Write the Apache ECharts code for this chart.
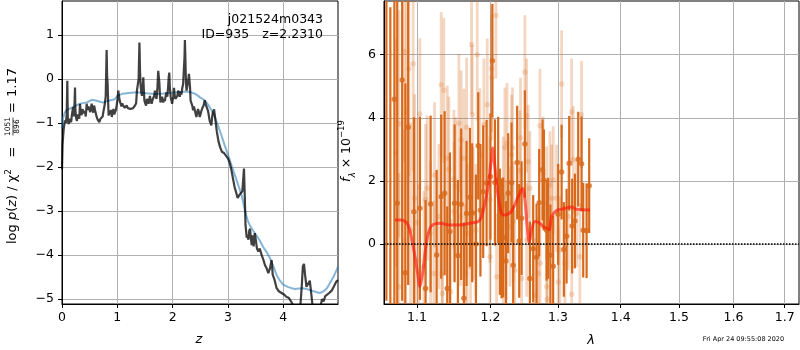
<!DOCTYPE html>
<html><head><meta charset="utf-8">
<script src="https://cdn.jsdelivr.net/npm/echarts@6/dist/echarts.min.js"></script>
<style>html,body{margin:0;padding:0;background:#fff}#c{width:800px;height:350px}</style>
</head><body><div id="c"></div>
<script>
// ---- left panel: log p(z)
const zGrid = [0.000,0.010,0.020,0.030,0.040,0.054,0.070,0.085,0.096,0.105,0.120,0.135,0.145,0.165,0.180,0.200,0.215,0.228,0.235,0.242,0.255,0.270,0.285,0.300,0.312,0.325,0.340,0.355,0.370,0.386,0.400,0.415,0.430,0.446,0.460,0.475,0.494,0.510,0.536,0.550,0.565,0.580,0.600,0.627,0.645,0.660,0.675,0.695,0.717,0.735,0.747,0.770,0.790,0.807,0.815,0.825,0.835,0.843,0.860,0.875,0.888,0.900,0.915,0.930,0.945,0.958,0.975,0.988,1.005,1.018,1.030,1.045,1.060,1.075,1.090,1.105,1.120,1.135,1.150,1.170,1.190,1.210,1.225,1.240,1.255,1.270,1.285,1.300,1.320,1.340,1.355,1.370,1.385,1.400,1.410,1.420,1.433,1.446,1.460,1.470,1.480,1.490,1.505,1.520,1.535,1.550,1.566,1.580,1.590,1.605,1.620,1.635,1.650,1.665,1.680,1.695,1.710,1.725,1.740,1.750,1.760,1.770,1.780,1.795,1.810,1.830,1.845,1.860,1.875,1.890,1.905,1.920,1.930,1.940,1.950,1.965,1.990,2.000,2.015,2.025,2.035,2.050,2.070,2.085,2.100,2.115,2.130,2.145,2.160,2.175,2.190,2.205,2.215,2.222,2.232,2.242,2.252,2.265,2.280,2.295,2.303,2.315,2.325,2.340,2.355,2.370,2.385,2.400,2.415,2.430,2.446,2.460,2.475,2.490,2.505,2.520,2.540,2.560,2.580,2.600,2.620,2.640,2.670,2.700,2.715,2.730,2.750,2.770,2.800,2.830,2.860,2.890,2.930,2.960,3.000,3.030,3.060,3.090,3.120,3.150,3.175,3.195,3.215,3.240,3.260,3.275,3.290,3.303,3.318,3.340,3.355,3.370,3.385,3.400,3.415,3.430,3.445,3.465,3.485,3.500,3.525,3.550,3.575,3.610,3.640,3.670,3.700,3.730,3.760,3.790,3.810,3.840,3.880,3.920,3.970,4.020,4.060,4.100,4.150,4.200,4.260,4.310,4.335,4.355,4.375,4.395,4.420,4.450,4.480,4.500,4.530,4.600,4.670,4.700,4.730,4.760,4.790,4.830,4.880,4.920,4.960,4.990];
const logpz = [-2.05,-1.50,-1.30,-1.15,-1.05,-0.94,-1.00,-0.80,-0.04,-0.90,-1.02,-0.90,-0.86,-0.98,-0.80,-0.64,-0.85,-0.50,-0.19,-0.70,-0.88,-0.95,-0.80,-0.79,-0.90,-0.56,-0.75,-0.82,-0.68,-0.64,-0.78,-0.72,-0.85,-0.56,-0.70,-0.62,-0.68,-0.75,-0.56,-0.70,-0.76,-0.60,-0.72,-0.86,-0.92,-0.95,-0.98,-0.90,-0.94,-0.85,-0.75,-0.60,-0.40,0.66,0.10,-0.11,-0.55,-0.83,-0.72,-0.80,-0.70,-0.86,-0.75,-0.68,-0.80,-0.79,-0.70,-0.60,-0.45,-0.26,-0.38,-0.50,-0.53,-0.62,-0.55,-0.60,-0.56,-0.65,-0.68,-0.60,-0.66,-0.70,-0.62,-0.68,-0.64,-0.70,-0.66,-0.64,-0.60,-0.55,-0.26,-0.30,0.00,0.83,0.20,-0.11,-0.30,-0.38,-0.20,0.04,-0.25,-0.49,-0.55,-0.60,-0.45,-0.50,-0.56,-0.45,-0.38,-0.50,-0.56,-0.48,-0.52,-0.38,-0.26,-0.40,-0.45,-0.20,0.19,0.05,-0.08,-0.35,-0.53,-0.45,-0.40,-0.53,-0.45,-0.50,-0.38,-0.30,-0.40,-0.15,0.05,0.15,-0.20,-0.40,-0.56,-0.48,-0.40,-0.20,-0.35,-0.45,-0.49,-0.38,-0.26,-0.35,-0.40,-0.28,-0.35,-0.20,-0.11,-0.10,0.50,0.89,0.40,-0.10,-0.26,-0.15,-0.05,0.12,0.15,-0.20,-0.49,-0.45,-0.60,-0.71,-0.62,-0.65,-0.78,-0.86,-0.75,-0.68,-0.75,-0.86,-0.80,-0.72,-0.65,-0.60,-0.48,-0.58,-0.62,-0.72,-0.95,-1.05,-0.85,-0.75,-0.69,-0.90,-1.20,-1.42,-1.55,-1.65,-1.68,-1.72,-1.80,-1.90,-2.05,-2.25,-2.45,-2.58,-2.70,-2.72,-2.62,-2.58,-2.55,-2.30,-2.03,-2.60,-3.32,-3.60,-3.55,-3.65,-3.45,-3.40,-3.62,-3.77,-3.55,-3.80,-3.50,-3.62,-3.85,-3.92,-3.85,-4.00,-4.10,-4.23,-4.30,-4.41,-4.30,-4.11,-4.45,-4.55,-4.75,-4.82,-4.86,-4.90,-4.95,-4.97,-5.07,-5.20,-5.35,-5.15,-4.70,-4.25,-4.20,-4.45,-4.72,-4.70,-4.58,-4.80,-5.15,-5.40,-5.20,-5.00,-5.05,-4.93,-4.90,-4.86,-4.80,-4.70,-4.60,-4.57];
const zSmooth = [0.000,0.020,0.050,0.080,0.140,0.200,0.270,0.330,0.400,0.450,0.540,0.630,0.700,0.750,0.840,0.920,0.960,1.000,1.020,1.100,1.170,1.260,1.350,1.450,1.530,1.620,1.710,1.800,1.890,1.980,2.070,2.160,2.250,2.330,2.400,2.450,2.500,2.580,2.640,2.700,2.760,2.820,2.880,2.940,3.010,3.070,3.130,3.190,3.250,3.310,3.360,3.400,3.460,3.520,3.580,3.640,3.700,3.760,3.820,3.880,3.940,4.000,4.080,4.150,4.220,4.280,4.350,4.420,4.500,4.580,4.660,4.720,4.790,4.850,4.910,4.960,4.990];
const logpzSmooth = [-1.12,-0.88,-0.76,-0.71,-0.67,-0.64,-0.59,-0.56,-0.54,-0.53,-0.47,-0.49,-0.52,-0.53,-0.49,-0.47,-0.45,-0.38,-0.34,-0.33,-0.32,-0.31,-0.30,-0.31,-0.32,-0.33,-0.34,-0.33,-0.32,-0.31,-0.30,-0.29,-0.28,-0.30,-0.33,-0.37,-0.42,-0.48,-0.58,-0.70,-0.85,-1.05,-1.27,-1.50,-1.75,-1.98,-2.20,-2.42,-2.65,-3.00,-3.22,-3.33,-3.45,-3.56,-3.68,-3.82,-3.93,-4.07,-4.25,-4.45,-4.58,-4.67,-4.72,-4.75,-4.77,-4.76,-4.75,-4.77,-4.80,-4.83,-4.86,-4.83,-4.75,-4.62,-4.49,-4.35,-4.26];
const zTicks = [0,1,2,3,4];
const pzTicks = [-5,-4,-3,-2,-1,0,1];

// ---- right panel: spectrum
const lamA = [1.0610,1.0660,1.0711,1.0747,1.0810,1.0851,1.0887,1.0961,1.1039,1.1114,1.1180,1.1260,1.1321,1.1367,1.1402,1.1438,1.1502,1.1547,1.1592,1.1629,1.1666,1.1712,1.1744,1.1796,1.1828,1.1859,1.1898,1.1946,1.2000,1.2028,1.2064,1.2111,1.2135,1.2160,1.2183,1.2222,1.2255,1.2304,1.2328,1.2386,1.2416,1.2451,1.2500,1.2574,1.2623,1.2674,1.2713,1.2764,1.2784,1.2825,1.2849,1.2883,1.2925,1.3002,1.3055,1.3090,1.3132,1.3173,1.3219,1.3262,1.3314,1.3367,1.3393,1.3447,1.3488];
const fluxA = [8.2,-2.5,4.59,1.29,5.2,-0.91,3.7,1.02,1.13,-1.41,1.27,-0.35,1.50,1.61,-1.41,0.40,1.29,-0.37,1.26,-1.72,0.97,1.48,0.99,0.00,3.11,1.07,1.66,1.93,2.14,5.81,1.95,2.03,0.39,0.18,0.21,-0.54,1.61,1.95,-0.67,2.58,0.10,0.82,3.17,-1.09,-0.15,-0.42,1.31,2.35,2.03,0.44,0.50,-0.35,-0.70,0.94,2.28,-0.17,0.25,2.56,0.57,0.73,2.69,2.54,0.44,0.42,1.85];
const errA = [10,10,8,7,7,6,5,3.0,2.9,2.8,2.8,2.7,2.6,2.6,2.6,2.5,2.5,2.4,2.4,2.4,2.3,2.2,2.2,2.2,1.7,2.1,2.1,2.0,2.0,1.8,2.0,2.0,2.0,1.9,1.9,1.9,1.9,1.9,1.9,1.8,1.8,1.8,1.7,1.8,1.7,1.7,1.7,1.6,1.6,1.6,1.6,1.6,1.6,1.6,1.5,1.5,1.5,1.5,1.5,1.5,1.5,1.5,1.5,1.5,1.5];
const lamB = [1.0726,1.0768,1.0768,1.0832,1.0840,1.0867,1.0896,1.0918,1.0952,1.0970,1.0996,1.1026,1.1039,1.1091,1.1114,1.1135,1.1180,1.1223,1.1232,1.1290,1.1321,1.1334,1.1336,1.1356,1.1402,1.1425,1.1448,1.1492,1.1494,1.1515,1.1560,1.1583,1.1592,1.1629,1.1653,1.1666,1.1674,1.1721,1.1735,1.1744,1.1758,1.1796,1.1814,1.1852,1.1908,1.1955,1.1993,1.1995,1.2017,1.2019,1.2078,1.2088,1.2183,1.2185,1.2207,1.2232,1.2239,1.2280,1.2304,1.2318,1.2328,1.2352,1.2426,1.2436,1.2451,1.2500,1.2525,1.2527,1.2549,1.2574,1.2649,1.2699,1.2724,1.2726,1.2773,1.2825,1.2827,1.2834,1.2875,1.2901,1.2925,1.2978,1.3002,1.3028,1.3055,1.3106,1.3157,1.3210,1.3212,1.3236,1.3288,1.3340,1.3367];
const fluxB = [2.89,3.81,-1.35,0.13,6.10,4.20,5.55,0.44,5.71,1.45,0.68,-0.51,4.12,-0.72,1.40,1.77,0.34,-0.93,2.19,0.87,5.05,-0.93,-1.57,4.87,2.72,2.37,-1.51,2.05,1.03,1.82,3.83,0.87,3.30,2.72,-0.93,3.70,0.34,-0.72,6.32,4.10,0.97,0.44,6.00,2.83,3.78,4.41,1.40,-0.40,5.55,5.28,7.24,-1.04,1.50,-0.45,3.06,0.13,3.20,0.55,2.83,3.06,0.71,-0.83,2.33,3.37,-1.09,5.45,4.07,0.13,2.61,1.77,-1.62,-0.93,3.75,-0.61,2.24,1.29,-1.35,-1.75,1.87,1.45,2.03,1.45,-1.20,-0.19,5.07,-0.61,0.87,4.18,-1.59,2.67,0.97,-0.40,4.10];
const errB = [3.6,3.6,3.6,3.5,3.5,3.5,3.4,3.4,3.4,3.3,3.3,2.4,2.4,2.4,2.4,2.3,2.3,2.3,2.3,2.3,2.3,2.3,2.3,2.3,2.3,2.3,2.3,2.2,2.2,2.2,2.2,2.2,2.2,2.2,2.2,2.2,2.2,2.2,2.2,2.2,2.1,2.1,2.1,2.1,2.1,2.1,2.0,2.0,2.0,2.0,2.0,2.0,1.9,1.9,1.9,1.9,1.9,1.9,1.9,1.9,1.9,1.9,1.9,1.9,1.9,1.8,1.8,1.8,1.8,1.8,1.8,1.8,1.8,1.8,1.8,1.8,1.8,1.8,1.7,1.7,1.7,1.7,1.7,1.7,1.7,1.7,1.7,1.7,1.7,1.7,1.7,1.7,1.7];
const lamModel = [1.0718,1.0803,1.0887,1.0952,1.1004,1.1039,1.1074,1.1118,1.1161,1.1214,1.1304,1.1438,1.1574,1.1712,1.1828,1.1876,1.1922,1.1969,1.1993,1.2017,1.2031,1.2064,1.2111,1.2160,1.2207,1.2280,1.2328,1.2401,1.2466,1.2500,1.2534,1.2564,1.2599,1.2649,1.2724,1.2773,1.2834,1.2868,1.2901,1.2978,1.3055,1.3210,1.3288,1.3500];
const fluxModel = [0.76,0.76,0.60,-0.08,-0.83,-1.35,-0.93,-0.08,0.44,0.62,0.66,0.60,0.60,0.66,0.71,0.87,1.29,1.82,2.30,2.72,3.04,2.45,1.50,0.97,0.92,0.99,1.13,1.50,1.77,1.40,0.55,0.07,0.44,0.71,0.66,0.55,0.50,0.45,0.87,1.06,1.10,1.17,1.10,1.08];
const lamTicks = [1.1,1.2,1.3,1.4,1.5,1.6,1.7];
const fTicks = [0,2,4,6];

const FONT = 'DejaVu Sans';
const minus = v => String(v).replace('-', '\u2212');
const zip = (a, b) => a.map((v, i) => [v, b[i]]);

function errRender(color, width) {
  return function (params, api) {
    const cs = params.coordSys;
    const p1 = api.coord([api.value(0), api.value(1)]);
    const p2 = api.coord([api.value(0), api.value(2)]);
    const top = cs.y, bot = cs.y + cs.height;
    const y1 = Math.min(Math.max(p1[1], top), bot);
    const y2 = Math.min(Math.max(p2[1], top), bot);
    return {type: 'line', shape: {x1: p1[0], y1: y1, x2: p1[0], y2: y2},
      style: {stroke: color, lineWidth: width}};
  };
}
const DARK = '#d8691a';
const LIGHT = 'rgba(216,105,26,0.27)';

const axisCommon = {
  axisLine: {show: true, onZero: false, lineStyle: {color: '#000', width: 1}},
  splitLine: {show: true, lineStyle: {color: '#b0b0b0', width: 1}},
};
const lblFont = '13px "DejaVu Sans"';

const chart = echarts.init(document.getElementById('c'), null, {renderer: 'canvas'});
chart.setOption({
  animation: false,
  backgroundColor: '#fff',
  grid: [
    {left: 62, top: 1, width: 276, height: 303, show: true, borderColor: '#000', borderWidth: 1, backgroundColor: 'transparent'},
    {left: 384, top: 1, width: 415, height: 303, show: true, borderColor: '#000', borderWidth: 1, backgroundColor: 'transparent'}
  ],
  xAxis: [
    Object.assign({type: 'value', gridIndex: 0, min: 0, max: 4.99, interval: 1,
      axisTick: {show: true, inside: false, length: 4, customValues: zTicks, lineStyle: {color: '#000'}},
      axisLabel: {customValues: zTicks, margin: 7, color: '#000', fontFamily: FONT, fontSize: 12.5, formatter: minus}}, axisCommon),
    Object.assign({type: 'log', logBase: 10, gridIndex: 1, min: 1.058, max: 1.729,
      axisTick: {show: true, inside: false, length: 4, customValues: lamTicks, lineStyle: {color: '#000'}},
      axisLabel: {customValues: lamTicks, margin: 7, color: '#000', fontFamily: FONT, fontSize: 12.5, formatter: v => (+v).toFixed(1)}}, axisCommon)
  ],
  yAxis: [
    Object.assign({type: 'value', gridIndex: 0, min: -5.11, max: 1.775,
      axisTick: {show: true, inside: false, length: 4, customValues: pzTicks, lineStyle: {color: '#000'}},
      axisLabel: {customValues: pzTicks, margin: 8, color: '#000', fontFamily: FONT, fontSize: 12.5, formatter: minus}}, axisCommon),
    Object.assign({type: 'value', gridIndex: 1, min: -1.9, max: 7.70,
      axisTick: {show: true, inside: false, length: 4, customValues: fTicks, lineStyle: {color: '#000'}},
      axisLabel: {customValues: fTicks, margin: 8, color: '#000', fontFamily: FONT, fontSize: 12.5, formatter: minus}}, axisCommon)
  ],
  series: [
    {type: 'line', xAxisIndex: 0, yAxisIndex: 0, data: zip(zSmooth, logpzSmooth), showSymbol: false, symbol: 'none',
      lineStyle: {color: 'rgba(31,119,180,0.55)', width: 2}, z: 3, silent: true},
    {type: 'line', xAxisIndex: 0, yAxisIndex: 0, data: zip(zGrid, logpz), showSymbol: false, symbol: 'none',
      lineStyle: {color: 'rgba(0,0,0,0.75)', width: 2.2}, z: 4, silent: true},
    {type: 'custom', xAxisIndex: 1, yAxisIndex: 1, renderItem: errRender(LIGHT, 2.8), silent: true, z: 2,
      encode: {x: 0, y: [1, 2]}, data: lamB.map((l, i) => [l, fluxB[i] - errB[i], fluxB[i] + errB[i]])},
    {type: 'scatter', xAxisIndex: 1, yAxisIndex: 1, data: zip(lamB, fluxB), symbolSize: 5.5, silent: true, z: 2,
      itemStyle: {color: LIGHT}},
    {type: 'custom', xAxisIndex: 1, yAxisIndex: 1, renderItem: errRender(DARK, 2.2), silent: true, z: 3,
      encode: {x: 0, y: [1, 2]}, data: lamA.map((l, i) => [l, fluxA[i] - errA[i], fluxA[i] + errA[i]])},
    {type: 'scatter', xAxisIndex: 1, yAxisIndex: 1, data: zip(lamA, fluxA), symbolSize: 5.5, silent: true, z: 3,
      itemStyle: {color: DARK}},
    {type: 'line', xAxisIndex: 1, yAxisIndex: 1, data: zip(lamModel, fluxModel), showSymbol: false, symbol: 'none', smooth: 0.3,
      lineStyle: {color: 'rgba(255,20,10,0.62)', width: 3}, z: 5, silent: true},
    {type: 'line', xAxisIndex: 1, yAxisIndex: 1, data: [[1.058, 0], [1.729, 0]], showSymbol: false, symbol: 'none',
      lineStyle: {color: '#000', width: 1.5, type: [1.5, 1.5]}, z: 6, silent: true}
  ],
  graphic: [
    {type: 'text', x: 323, y: 20, style: {text: 'j021524m0343', font: '12.5px "DejaVu Sans"', fill: '#000', align: 'right', verticalAlign: 'middle'}, z: 10},
    {type: 'text', x: 201.5, y: 34.5, style: {text: 'ID=935', font: '12.5px "DejaVu Sans"', fill: '#000', align: 'left', verticalAlign: 'middle'}, z: 10},
    {type: 'text', x: 323, y: 34.5, style: {text: 'z=2.2310', font: '12.5px "DejaVu Sans"', fill: '#000', align: 'right', verticalAlign: 'middle'}, z: 10},
    {type: 'text', x: 199, y: 340, style: {text: 'z', font: 'italic 13px "DejaVu Sans"', fill: '#000', align: 'center', verticalAlign: 'middle'}},
    {type: 'text', x: 591, y: 341, style: {text: 'λ', font: 'italic 13px "DejaVu Sans"', fill: '#000', align: 'center', verticalAlign: 'middle'}},
    {type: 'text', x: 743.5, y: 339, style: {text: 'Fri Apr 24 09:55:08 2020', font: '6.5px "DejaVu Sans"', fill: '#000', align: 'center', verticalAlign: 'middle'}},
    {type: 'group', x: 13, y: 0, rotation: Math.PI / 2, children: [
      {type: 'text', x: -244, y: 0, style: {text: 'log {i|p}({i|z}) / χ{s|2}', font: lblFont, fill: '#000', align: 'left', verticalAlign: 'middle',
        rich: {i: {fontStyle: 'italic', fontSize: 13, fontFamily: FONT, lineHeight: 18}, s: {fontSize: 9, fontFamily: FONT, verticalAlign: 'top'}}}},
      {type: 'text', x: -152, y: 0, style: {text: '=', font: lblFont, fill: '#000', align: 'center', verticalAlign: 'middle'}},
      {type: 'text', x: -126.5, y: -4.5, style: {text: '1051', font: '7.5px "DejaVu Sans"', fill: '#000', align: 'center', verticalAlign: 'middle'}},
      {type: 'line', shape: {x1: -135.5, y1: 0, x2: -117.5, y2: 0}, style: {stroke: '#000', lineWidth: 0.7}},
      {type: 'text', x: -126.5, y: 4.5, style: {text: '896', font: '7.5px "DejaVu Sans"', fill: '#000', align: 'center', verticalAlign: 'middle'}},
      {type: 'text', x: -107.5, y: 0, style: {text: '=', font: lblFont, fill: '#000', align: 'center', verticalAlign: 'middle'}},
      {type: 'text', x: -97, y: 0, style: {text: '1.17', font: lblFont, fill: '#000', align: 'left', verticalAlign: 'middle'}}
    ]},
    {type: 'group', x: 347, y: 0, rotation: Math.PI / 2, children: [
      {type: 'text', x: -151, y: 0, style: {text: '{i|f}{sub|λ} × 10{sup|−19}', font: '12.5px "DejaVu Sans"', fill: '#000', align: 'center', verticalAlign: 'middle',
        rich: {i: {fontStyle: 'italic', fontSize: 13, fontFamily: FONT, lineHeight: 20}, sub: {fontStyle: 'italic', fontSize: 8.5, fontFamily: FONT, verticalAlign: 'bottom'}, sup: {fontSize: 8.5, fontFamily: FONT, verticalAlign: 'top'}}}}
    ]}
  ]
});
</script>
</body></html>
